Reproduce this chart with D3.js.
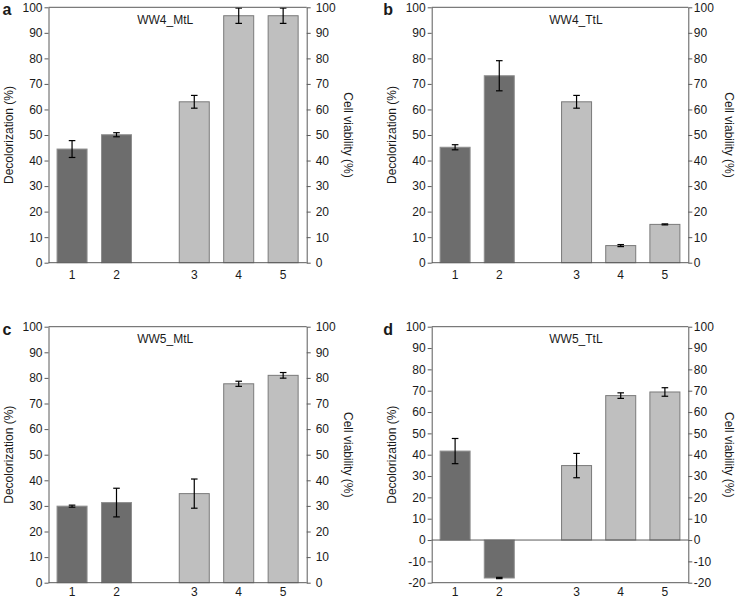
<!DOCTYPE html>
<html><head><meta charset="utf-8">
<script src="https://cdn.jsdelivr.net/npm/d3@7"></script>
<style>
body{margin:0;background:#fff}
svg{display:block}
text{font-family:"Liberation Sans",Arial,Helvetica,sans-serif;fill:#1a1a1a}
</style>
</head><body>
<svg id="chart" width="738" height="599"></svg>
<script>
// ---------- data ----------
const categories = ["1", "2", "3", "4", "5"];
const panelLetters = ["a", "b", "c", "d"];
const panelTitles = ["WW4_MtL", "WW4_TtL", "WW5_MtL", "WW5_TtL"];
// bars 1-2: decolorization (dark), bars 3-5: cell viability (light)
const decolorization    = [[44.5, 50.1], [45.2, 73.2], [29.9, 31.3], [41.7, -17.8]];
const decolorizationErr = [[3.3, 0.8],   [1.0, 5.9],   [0.4, 5.6],   [5.9, 0.3]];
const cellViability     = [[63.0, 96.7, 96.7], [63.0, 6.7, 15.0], [34.8, 77.7, 81.0], [34.9, 67.7, 69.4]];
const cellViabilityErr  = [[2.5, 3.0, 3.0],    [2.5, 0.4, 0.2],    [5.7, 1.0, 1.1],    [5.7, 1.3, 2.0]];
const yMins = [0, 0, 0, -20];
const yMax = 100;
const yTickStep = 10;
const leftAxisLabel = "Decolorization (%)";
const rightAxisLabel = "Cell viability (%)";

// ---------- layout / style ----------
const layout = [
  {left: 48.5,  top: 7.3,   width: 258.2, height: 255.4, titleFrac: 0.452, rightPad: 5,   xLabelDy: 16},
  {left: 431.7, top: 7.3,   width: 256.6, height: 255.4, titleFrac: 0.562, rightPad: 1.5, xLabelDy: 16},
  {left: 48.5,  top: 326.7, width: 258.2, height: 256.0, titleFrac: 0.452, rightPad: 5,   xLabelDy: 13.5},
  {left: 431.7, top: 326.7, width: 256.6, height: 256.0, titleFrac: 0.562, rightPad: 1.5, xLabelDy: 13.5}
];
const groupGap = 0.75;      // extra space between the two groups (in slot units)
const barWidth = 30;
const darkFill = "#6d6d6d", darkStroke = "#8e8e8e";
const lightFill = "#bfbfbf", lightStroke = "#7a7a7a";
const axisColor = "#5a5a5a";

const svg = d3.select("#chart");

layout.forEach((L, p) => {
  const g = svg.append("g").attr("transform", `translate(${L.left},${L.top})`);
  const w = L.width, h = L.height;
  const yMin = yMins[p];

  const x = d3.scaleLinear().domain([0.47, 5 + groupGap + 0.53]).range([0, w]);
  const pos = i => i + 1 + (i >= 2 ? groupGap : 0);
  const y = d3.scaleLinear().domain([yMin, yMax]).range([h, 0]);

  const bars = categories.map((c, i) => i < 2
    ? {cat: c, i, v: decolorization[p][i], e: decolorizationErr[p][i], dark: true}
    : {cat: c, i, v: cellViability[p][i - 2], e: cellViabilityErr[p][i - 2], dark: false});

  // bars
  g.selectAll("rect.bar").data(bars).join("rect")
    .attr("class", "bar")
    .attr("x", d => x(pos(d.i)) - barWidth / 2)
    .attr("y", d => y(Math.max(d.v, 0)))
    .attr("width", barWidth)
    .attr("height", d => Math.abs(y(d.v) - y(0)))
    .attr("fill", d => d.dark ? darkFill : lightFill)
    .attr("stroke", d => d.dark ? darkStroke : lightStroke)
    .attr("stroke-width", 1);

  // error bars
  const eb = g.selectAll("g.err").data(bars).join("g").attr("class", "err")
    .attr("stroke", "#000").attr("stroke-width", 1.2);
  eb.append("line")
    .attr("x1", d => x(pos(d.i))).attr("x2", d => x(pos(d.i)))
    .attr("y1", d => y(d.v - d.e)).attr("y2", d => y(d.v + d.e));
  eb.append("line")
    .attr("x1", d => x(pos(d.i)) - 3.3).attr("x2", d => x(pos(d.i)) + 3.3)
    .attr("y1", d => y(d.v - d.e)).attr("y2", d => y(d.v - d.e));
  eb.append("line")
    .attr("x1", d => x(pos(d.i)) - 3.3).attr("x2", d => x(pos(d.i)) + 3.3)
    .attr("y1", d => y(d.v + d.e)).attr("y2", d => y(d.v + d.e));

  // frame lines
  g.append("line").attr("x1", 0).attr("x2", w).attr("y1", 0).attr("y2", 0)
    .attr("stroke", axisColor);
  g.append("line").attr("x1", 0).attr("x2", w).attr("y1", h).attr("y2", h)
    .attr("stroke", axisColor);
  if (yMin < 0) {
    g.append("line").attr("x1", 0).attr("x2", w).attr("y1", y(0)).attr("y2", y(0))
      .attr("stroke", axisColor);
  }

  const ticks = d3.range(yMin, yMax + 0.001, yTickStep);
  const fmt = d => String(d);
  const leftAx = g.append("g").call(d3.axisLeft(y).tickValues(ticks).tickFormat(fmt)
    .tickSize(4).tickSizeOuter(0).tickPadding(2));
  const rightAx = g.append("g").attr("transform", `translate(${w},0)`)
    .call(d3.axisRight(y).tickValues(ticks).tickFormat(fmt)
    .tickSize(4).tickSizeOuter(0).tickPadding(L.rightPad));
  [leftAx, rightAx].forEach(ax => {
    ax.select(".domain").attr("stroke", axisColor);
    ax.selectAll(".tick line").attr("stroke", axisColor);
    ax.selectAll(".tick text").attr("font-size", 12).attr("fill", "#1a1a1a")
      .style("font-family", '"Liberation Sans", Arial, sans-serif');
  });

  // x tick labels
  g.selectAll("text.xl").data(bars).join("text").attr("class", "xl")
    .attr("x", d => x(pos(d.i))).attr("y", h + L.xLabelDy)
    .attr("text-anchor", "middle").attr("font-size", 12)
    .text(d => d.cat);

  // panel title
  g.append("text").attr("x", w * L.titleFrac).attr("y", 16.3)
    .attr("text-anchor", "middle").attr("font-size", 12).text(panelTitles[p]);

  // axis titles
  g.append("text").attr("transform", `translate(${-36},${h / 2}) rotate(-90)`)
    .attr("text-anchor", "middle").attr("font-size", 12).text(leftAxisLabel);
  g.append("text").attr("transform", `translate(${w + 37},${h / 2}) rotate(90)`)
    .attr("text-anchor", "middle").attr("font-size", 12).text(rightAxisLabel);

  // panel letter
  g.append("text").attr("x", p % 2 === 0 ? -46 : -48.5).attr("y", 8)
    .attr("font-size", 16).attr("font-weight", "bold").text(panelLetters[p]);
});
</script>
</body></html>
